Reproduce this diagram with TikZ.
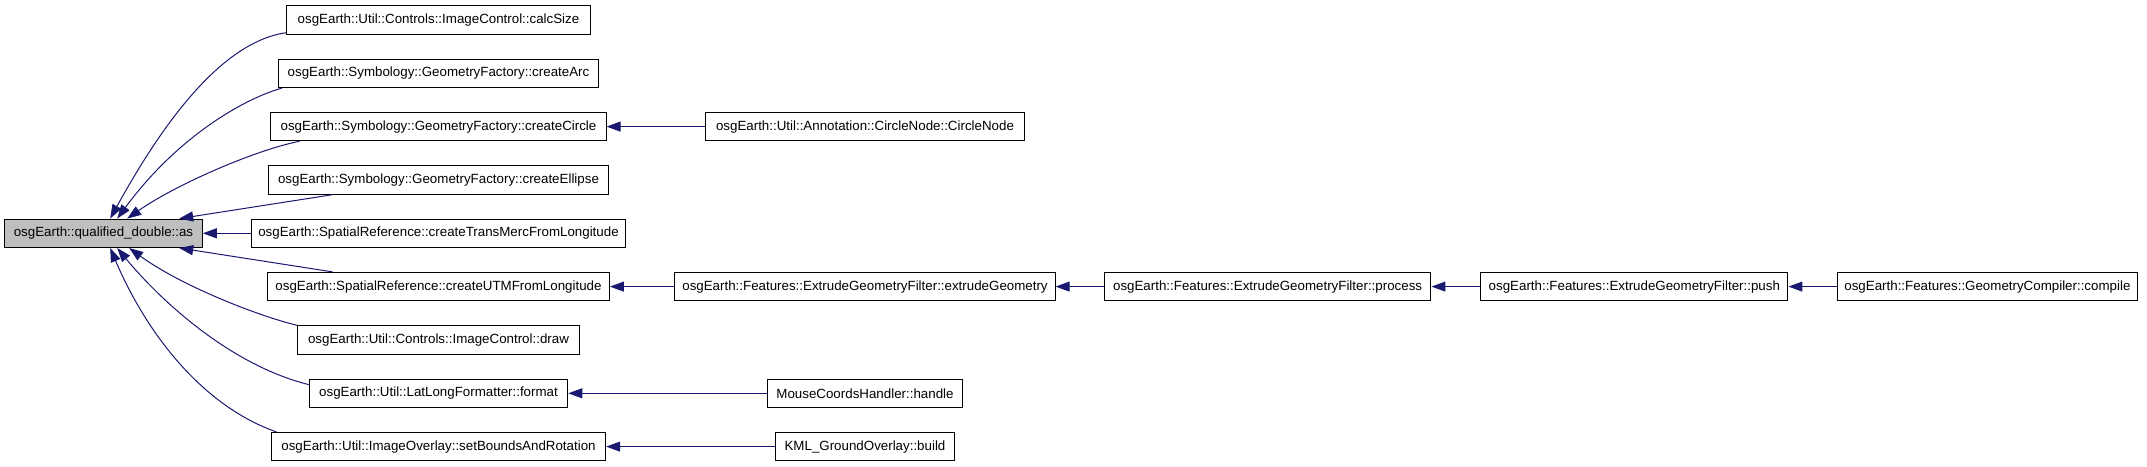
\documentclass[tikz,border=0pt]{standalone}
\usepackage{fontspec}
\setmainfont{Liberation Sans}
\usetikzlibrary{arrows.meta,calc}
\definecolor{edgeblue}{HTML}{191970}
\definecolor{focusgray}{HTML}{BFBFBF}
\begin{document}
\begin{tikzpicture}[x=0.75pt,y=-0.75pt,
  box/.style={draw=black,line width=0.75pt,fill=white,minimum height=21.3pt,inner sep=0pt,font=\fontsize{10pt}{12pt}\selectfont},
  focus/.style={box,fill=focusgray},
  edge/.style={draw=edgeblue,line width=0.75pt,-{Triangle[length=10.5pt,width=7.5pt]}}]
\useasboundingbox (0,0) rectangle (2147,467);

% column 1
\node[focus,minimum width=148.2pt] (as) at (103.5,233.3) {osgEarth::qualified\_double::as};
% column 2
\node[box,minimum width=227.7pt] (calc)    at (438.5,20)    {osgEarth::Util::Controls::ImageControl::calcSize};
\node[box,minimum width=239.8pt] (arc)     at (438.5,73.3)  {osgEarth::Symbology::GeometryFactory::createArc};
\node[box,minimum width=251.3pt] (circle)  at (438.5,126.6) {osgEarth::Symbology::GeometryFactory::createCircle};
\node[box,minimum width=254.3pt] (ellipse) at (438.5,180)   {osgEarth::Symbology::GeometryFactory::createEllipse};
\node[box,minimum width=281.0pt] (trans)   at (438.5,233.3) {osgEarth::SpatialReference::createTransMercFromLongitude};
\node[box,minimum width=256.4pt] (utm)     at (438.5,286.6) {osgEarth::SpatialReference::createUTMFromLongitude};
\node[box,minimum width=211.5pt] (drawn)   at (438.5,340)   {osgEarth::Util::Controls::ImageControl::draw};
\node[box,minimum width=193.9pt] (format)  at (438.5,393.3) {osgEarth::Util::LatLongFormatter::format};
\node[box,minimum width=250.7pt] (setb)    at (438.5,446.6) {osgEarth::Util::ImageOverlay::setBoundsAndRotation};
% column 3
\node[box,minimum width=239.4pt] (cnode)   at (865,126.6)   {osgEarth::Util::Annotation::CircleNode::CircleNode};
\node[box,minimum width=285.2pt] (extrude) at (865,286.6)   {osgEarth::Features::ExtrudeGeometryFilter::extrudeGeometry};
\node[box,minimum width=146.3pt] (mouse)   at (865,393.3)   {MouseCoordsHandler::handle};
\node[box,minimum width=134.0pt] (kml)     at (865,446.6)   {KML\_GroundOverlay::build};
% columns 4-6
\node[box,minimum width=245.0pt] (process) at (1267.6,286.6) {osgEarth::Features::ExtrudeGeometryFilter::process};
\node[box,minimum width=230.5pt] (push)    at (1634.3,286.6) {osgEarth::Features::ExtrudeGeometryFilter::push};
\node[box,minimum width=224.4pt] (compile) at (1987.4,286.6) {osgEarth::Features::GeometryCompiler::compile};

% curved edges into the focus node
\draw[edge] ($(calc.south west)+(0,-2)$) .. controls (220,42) and (160,128) .. ($(as.north west)+(106,0)$);
\draw[edge] ($(arc.south west)+(4,0)$) .. controls (240,100) and (175,140) .. ($(as.north west)+(113,0)$);
\draw[edge] ($(circle.south west)+(29,0)$) .. controls (255,150) and (175,185) .. ($(as.north west)+(123,0)$);
\draw[edge] ($(ellipse.south west)+(64,0)$) -- ($(as.north west)+(175,0)$);
\draw[edge] (trans.west) -- (as.east);
\draw[edge] ($(utm.north west)+(65.5,0)$) -- ($(as.south west)+(175,0)$);
\draw[edge] (drawn.north west) .. controls (255,315) and (180,285) .. ($(as.south west)+(125,0)$);
\draw[edge] ($(format.north west)+(0,6)$) .. controls (230,365) and (160,300) .. ($(as.south west)+(113,0)$);
\draw[edge] ($(setb.north west)+(5.5,0)$) .. controls (200,405) and (145,330) .. ($(as.south west)+(106,0)$);

% straight edges
\draw[edge] (cnode.west) -- (circle.east);
\draw[edge] (extrude.west) -- (utm.east);
\draw[edge] (mouse.west) -- (format.east);
\draw[edge] (kml.west) -- (setb.east);
\draw[edge] (process.west) -- (extrude.east);
\draw[edge] (push.west) -- (process.east);
\draw[edge] (compile.west) -- (push.east);
\end{tikzpicture}
\end{document}
